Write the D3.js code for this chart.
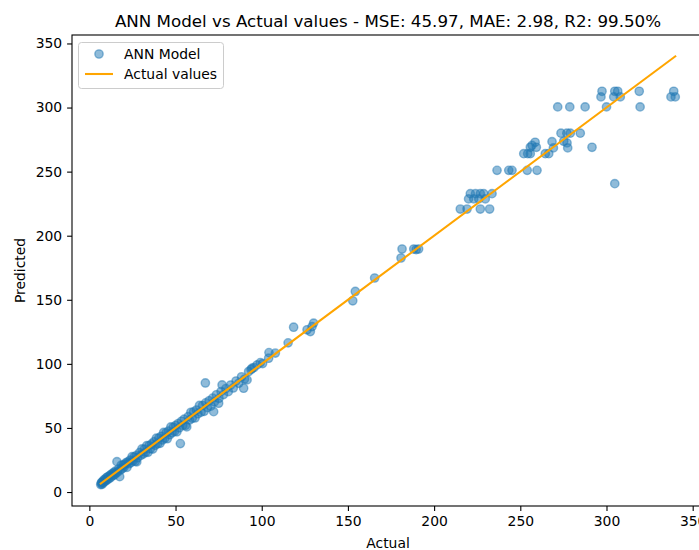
<!DOCTYPE html>
<html>
<head>
<meta charset="utf-8">
<script src="https://cdn.jsdelivr.net/npm/d3@7"></script>
<style>
  body { margin: 0; background: #fff; }
  svg { display: block; font-family: "DejaVu Sans", sans-serif; }
</style>
</head>
<body>
<svg id="chart" width="699" height="550"></svg>
<script>
// values
const actual = [
  6.6, 6.9, 7.2, 7.4, 7.8, 8.1, 8.4, 8.8, 9.2, 9.6, 10.0, 10.3, 10.8, 11.2, 11.7, 12.1,
  12.5, 13.0, 13.4, 13.9, 14.3, 14.8, 15.2, 15.6, 16.0, 16.4, 17.0, 17.6, 18.0, 18.5,
  19.0, 19.6, 20.1, 20.7, 21.3, 21.8, 22.4, 23.0, 23.6, 24.2, 24.8, 25.4, 26.0, 26.7,
  27.3, 27.5, 28.0, 29.2, 29.9, 30.5, 31.2, 31.9, 32.6, 33.3, 34.0, 34.7, 35.4, 36.1,
  36.8, 37.5, 38.2, 38.9, 39.6, 40.3, 41.0, 41.7, 42.4, 43.1, 43.8, 44.5, 45.2, 45.9,
  46.6, 47.3, 48.0, 48.7, 49.4, 50.1, 50.8, 51.5, 52.2, 52.8, 53.5, 54.2, 55.0, 55.8,
  56.5, 57.3, 58.1, 58.9, 59.7, 60.5, 61.3, 62.1, 63.0, 63.9, 64.8, 65.7, 66.6, 67.3,
  67.5, 68.5, 69.5, 70.5, 71.5, 72.1, 72.6, 73.7, 75.0, 75.2, 76.4, 77.0, 77.8, 79.2,
  80.6, 82.0, 83.5, 85.1, 86.7, 88.3, 89.5, 90.0, 91.5, 92.4, 93.8, 94.4, 95.5, 97.3,
  99.2, 100.5, 104.0, 104.2, 107.9, 115.3, 118.5, 126.3, 128.2, 129.2, 130.1, 152.8,
  154.3, 165.5, 180.8, 181.4, 188.2, 189.6, 191.0,
  215.2, 219.1, 226.8, 232.2, 220.0, 223.0, 225.9, 229.7, 221.0, 224.0, 226.8, 228.8, 233.6,
  236.5, 243.3, 245.2, 254.0, 259.7, 252.0, 254.3, 255.8, 264.5, 266.5,
  255.8, 259.3, 269.2, 277.5, 291.6, 258.6, 268.4, 275.2, 277.1, 256.8,
  273.6, 277.0, 279.0, 284.8, 271.7, 278.7, 287.6, 300.0, 319.5,
  296.8, 304.2, 308.0, 337.4, 339.9, 297.4, 304.8, 306.5, 319.0, 339.0, 304.8
];
const predicted = [
  5.8, 6.9, 7.6, 6.0, 8.3, 7.2, 9.4, 8.1, 10.1, 8.7, 11.3, 9.5, 11.9, 10.4, 12.8, 11.0,
  13.6, 12.2, 14.5, 13.1, 15.2, 13.6, 16.4, 14.9, 23.7, 15.5, 18.1, 12.0, 17.2, 21.0,
  18.1, 20.9, 19.3, 21.8, 22.9, 19.2, 23.5, 22.1, 24.9, 23.0, 27.6, 24.3, 27.4, 24.0,
  28.6, 23.5, 26.8, 30.8, 28.6, 33.6, 29.7, 33.4, 31.0, 36.2, 31.0, 36.3, 33.8, 37.5,
  33.5, 39.2, 36.5, 42.0, 37.7, 42.1, 38.0, 43.5, 40.6, 46.5, 42.0, 46.2, 41.6, 47.6,
  44.7, 50.8, 46.2, 50.5, 47.3, 52.0, 47.0, 53.4, 50.1, 37.8, 55.2, 52.0, 56.9, 52.0,
  50.8, 58.8, 56.2, 62.2, 57.5, 62.6, 57.8, 64.0, 61.1, 67.6, 62.3, 67.5, 63.0, 85.1,
  69.6, 66.0, 71.2, 67.0, 73.3, 62.7, 70.4, 75.9, 69.3, 73.1, 78.4, 83.6, 76.0, 80.7,
  78.3, 83.5, 81.2, 86.6, 84.9, 89.9, 81.0, 88.1, 87.5, 94.0, 95.6, 96.6, 97.1, 99.2,
  101.0, 100.2, 104.4, 108.8, 108.4, 116.4, 128.6, 126.6, 125.2, 129.1, 131.8, 149.2,
  156.5, 167.0, 182.6, 189.6, 189.6, 189.2, 189.6,
  220.8, 220.8, 220.8, 220.8, 228.7, 228.7, 228.7, 228.7, 232.8, 232.8, 232.8, 232.8, 232.8,
  251.0, 251.0, 251.0, 251.0, 251.0, 264.0, 264.0, 264.0, 264.0, 264.0,
  269.0, 269.0, 268.5, 268.5, 269.0, 272.9, 273.4, 273.7, 272.4, 270.5,
  280.0, 280.0, 280.0, 280.0, 300.5, 300.5, 300.5, 300.5, 300.5,
  308.3, 308.3, 308.3, 308.3, 308.3, 312.7, 312.7, 312.7, 312.7, 312.7, 240.6
];
const xTicks = [0, 50, 100, 150, 200, 250, 300, 350];
const yTicks = [0, 50, 100, 150, 200, 250, 300, 350];
const titleText = "ANN Model vs Actual values - MSE: 45.97, MAE: 2.98, R2: 99.50%";

const points = actual.map((a, i) => ({ a: a, p: predicted[i] }));
const lineExt = d3.extent(actual); // the "Actual values" line goes min -> max

// axes box (right edge runs off the picture like the reference)
const box = { left: 72, right: 704, top: 35, bottom: 506 };

// matplotlib style 5% padding on the data range
function padded(lo, hi) {
  const m = (hi - lo) * 0.05;
  return [lo - m, hi + m];
}
const xDom = padded(d3.min(actual), d3.max(actual));
const yDom = padded(Math.min(d3.min(predicted), lineExt[0]), Math.max(d3.max(predicted), lineExt[1]));

const x = d3.scaleLinear().domain(xDom).range([box.left, box.right]);
const y = d3.scaleLinear().domain(yDom).range([box.bottom, box.top]);

const svg = d3.select("#chart");
const blue = "#1f77b4";

// scatter
svg.append("g")
  .selectAll("circle")
  .data(points)
  .enter()
  .append("circle")
  .attr("cx", d => x(d.a))
  .attr("cy", d => y(d.p))
  .attr("r", 4.17)
  .attr("fill", blue)
  .attr("fill-opacity", 0.5)
  .attr("stroke", blue)
  .attr("stroke-opacity", 0.5)
  .attr("stroke-width", 1.39);

// reference line
svg.append("line")
  .attr("x1", x(lineExt[0])).attr("y1", y(lineExt[0]))
  .attr("x2", x(lineExt[1])).attr("y2", y(lineExt[1]))
  .attr("stroke", "orange")
  .attr("stroke-width", 2.08)
  .attr("stroke-linecap", "square");

// axes
const xAxis = svg.append("g")
  .attr("transform", `translate(0,${box.bottom})`)
  .call(d3.axisBottom(x).tickValues(xTicks).tickSize(4.9).tickPadding(4.9).tickSizeOuter(0));
const yAxis = svg.append("g")
  .attr("transform", `translate(${box.left},0)`)
  .call(d3.axisLeft(y).tickValues(yTicks).tickSize(4.9).tickPadding(4.9).tickSizeOuter(0));

[xAxis, yAxis].forEach(g => {
  g.select(".domain").remove();
  g.selectAll(".tick line").attr("stroke", "#000").attr("stroke-width", 1.1);
  g.selectAll(".tick text")
    .attr("fill", "#000")
    .style("font-family", "DejaVu Sans")
    .style("font-size", "13.9px");
});

// frame
svg.append("rect")
  .attr("x", box.left).attr("y", box.top)
  .attr("width", box.right - box.left).attr("height", box.bottom - box.top)
  .attr("fill", "none")
  .attr("stroke", "#000")
  .attr("stroke-width", 1.1);

// title and labels
const midX = (box.left + box.right) / 2;
svg.append("text")
  .attr("x", midX).attr("y", 26.5)
  .attr("text-anchor", "middle")
  .style("font-size", "16.7px")
  .text(titleText);

svg.append("text")
  .attr("x", midX).attr("y", 547.5)
  .attr("text-anchor", "middle")
  .style("font-size", "13.9px")
  .text("Actual");

svg.append("text")
  .attr("transform", `translate(25,${(box.top + box.bottom) / 2}) rotate(-90)`)
  .attr("text-anchor", "middle")
  .style("font-size", "13.9px")
  .text("Predicted");

// legend
const legend = svg.append("g");
legend.append("rect")
  .attr("x", 78.5).attr("y", 42.5)
  .attr("width", 145).attr("height", 46)
  .attr("rx", 3)
  .attr("fill", "#fff").attr("fill-opacity", 0.8)
  .attr("stroke", "#ccc").attr("stroke-width", 1);
legend.append("circle")
  .attr("cx", 99).attr("cy", 54)
  .attr("r", 4.17)
  .attr("fill", blue).attr("fill-opacity", 0.5)
  .attr("stroke", blue).attr("stroke-opacity", 0.5).attr("stroke-width", 1.39);
legend.append("line")
  .attr("x1", 85).attr("x2", 113)
  .attr("y1", 74).attr("y2", 74)
  .attr("stroke", "orange").attr("stroke-width", 2.08);
legend.append("text")
  .attr("x", 124).attr("y", 59)
  .style("font-size", "13.9px")
  .text("ANN Model");
legend.append("text")
  .attr("x", 124).attr("y", 79)
  .style("font-size", "13.9px")
  .text("Actual values");
</script>
</body>
</html>
